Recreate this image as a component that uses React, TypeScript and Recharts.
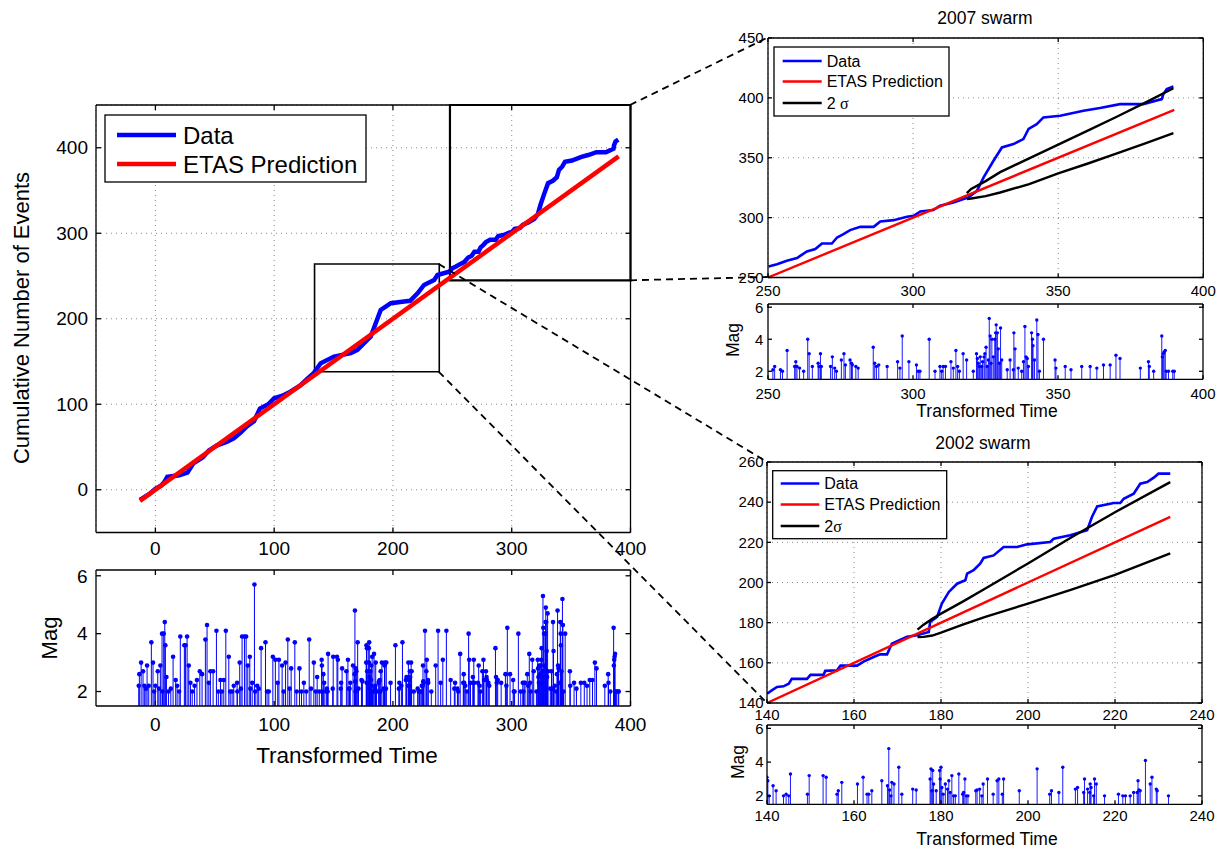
import React from 'react'
import { LineChart, ComposedChart, Line, Bar, XAxis, YAxis, CartesianGrid, ReferenceArea } from 'recharts'

const FONT = '"Liberation Sans", Arial, Helvetica, sans-serif'
const BLUE = '#0000ff'
const RED = '#ff0000'

// cumulative number of events [transformed time, count]
const cumEarly: [number, number][] = [
  [-13, -12], [-5, -5], [0, 1], [5, 5], [8, 10], [10, 15], [20, 17], [27, 20], [32, 31],
  [40, 38], [45, 46], [52, 52], [60, 56], [66, 60], [72, 67], [77, 74], [83, 80], [88, 95],
  [95, 100], [100, 107], [107, 110], [114, 115], [122, 122], [128, 130], [133, 136],
]
const cumMainMid: [number, number][] = [
  [139.2, 148], [150.4, 155.8], [164.5, 159.7], [170.1, 163.6], [181.3, 179.1], [185.5, 194.8],
  [189.7, 210.3], [193.9, 214.2], [198.2, 218.2], [209.4, 220.1], [214.5, 221], [220.7, 229.8],
  [226.2, 239.5], [229.1, 241.5], [234.7, 245.4], [237.5, 251.2], [247.3, 255.1],
]
const cum2002: [number, number][] = [
  [140, 144.6], [141.1, 146.3], [142.3, 148], [143.8, 148.3], [145, 149.6], [145.7, 152],
  [149.2, 152], [150, 154], [153, 154], [153.4, 156], [156.1, 156.3], [156.9, 158.6],
  [160.7, 158.6], [162.2, 160.6], [164.5, 162.9], [166, 164.2], [167.6, 164.2], [168.7, 169.5],
  [170.7, 171.5], [172.2, 173], [174.5, 173.7], [177.2, 175.4], [177.5, 180.3], [179.1, 182.8],
  [180.2, 189.5], [181.8, 195.3], [183.7, 199.4], [185.6, 201.1], [186, 204.4], [187.5, 206.1],
  [189, 209.4], [189.8, 212.2], [192.1, 213.5], [194.4, 217.7], [197.5, 217.7], [199.8, 219],
  [205.1, 220.2], [205.9, 221.8], [209.7, 223.5], [213.6, 226], [214.7, 232.6], [215.9, 237.9],
  [219.7, 239.6], [221.2, 239.6], [222, 241.7], [224.3, 244.2], [225.8, 249.2], [227.4, 250],
  [228.9, 252.2], [230, 254.2], [232.7, 254.2],
]
const cum2007: [number, number][] = [
  [250.2, 259.2], [253.1, 261.1], [256.5, 263.9], [260, 266.2], [261.1, 268.1], [263.4, 271.7],
  [266.3, 273.7], [268.6, 278.4], [272, 278.4], [273.8, 283.4], [276, 286.2], [278.3, 289.6],
  [281.8, 292.3], [286.4, 292.3], [288.7, 296.8], [293.3, 297.9], [297.9, 300.7], [300.2, 301.5],
  [302.5, 305.2], [307, 306.3], [309.3, 309.9], [313.9, 312.7], [317.4, 315.5], [319.1, 316.9],
  [322, 322.4], [324.3, 333.6], [327.7, 347.5], [330.6, 358.6], [334.6, 361.4], [338, 365.6],
  [339.8, 374], [342.6, 378.1], [344.9, 383.7], [350.7, 385.1], [358.7, 389.3], [364.4, 391.5],
  [371.3, 394.8], [379.3, 394.8], [385.7, 399], [386.2, 403], [387.4, 407.4], [389.7, 409.6],
]

// ETAS prediction end points
const predMain: [number, number][] = [[-13, -13], [390, 390]]
const pred2007: [number, number][] = [[250, 250], [390, 390]]
const pred2002: [number, number][] = [[140, 140], [232.7, 232.7]]

// 2 sigma envelopes
const sig2007Time = [318.5, 320, 325, 330, 340, 350, 360, 370, 380, 389.7]
const sig2007Upper = [320.5, 324, 330.5, 338, 349.5, 361, 372.5, 384, 396, 408]
const sig2007Lower = [315.5, 316, 318, 321, 328, 337, 345, 353.5, 362, 370.5]
const sig2002Time = [174.6, 176, 178, 180, 185, 190, 200, 210, 220, 232.7]
const sig2002Upper = [176.5, 179, 182, 184.5, 190.5, 196.8, 209.5, 222.5, 235, 250]
const sig2002Lower = [172.8, 172.9, 173.6, 175, 179, 182.8, 189.5, 196.5, 203.8, 214.5]

// magnitudes [transformed time, mag]
const magEarly: [number, number][] = [
  [-14, 2.2], [-13.5, 2.6], [-12, 3.0], [-10.4, 2.7], [-9.3, 2.2], [-8, 2.1], [-7, 2.9], [-5.6, 2.2],
  [-3.4, 3.7], [-2, 3.0], [-1, 2.0], [0, 2.2], [2, 2.7], [3, 2.1], [4.2, 2.9], [5.6, 4.0], [6, 2.0],
  [7, 4.0], [7.9, 4.4], [8.4, 3.6], [9.3, 2.5], [11, 2.0], [13, 2.1], [14.9, 3.2], [17.1, 2.4],
  [18.3, 2.2], [20, 2.0], [21, 3.9], [24.4, 3.6], [25.3, 3.6], [26.7, 3.9], [28.1, 2.9], [29.5, 2.3],
  [31, 2.0], [33, 2.2], [35, 2.4], [37.4, 2.7], [39.3, 2.6], [42.1, 3.8], [43.5, 4.3], [45, 2.3],
  [46.3, 2.7], [48.6, 2.7], [51.4, 4.1], [53, 2.0], [54.8, 2.4], [56, 2.0], [57.6, 2.4], [59.3, 4.1],
  [61.8, 3.2], [63, 2.0], [64.6, 2.0], [66, 2.2], [68.8, 2.3], [69, 2.0], [71, 3.0], [72, 2.1],
  [73, 3.9], [75, 3.9], [76.4, 3.9], [77.8, 2.9], [79.5, 3.2], [80, 2.1], [81.5, 2.3], [83.4, 5.7],
  [84, 2.0], [85.7, 2.2], [87, 2.1], [89, 3.5], [92.7, 3.7], [94, 2.0], [95.5, 2.0], [98.9, 3.2],
  [101, 3.1], [103, 2.3], [104, 3.1], [106.7, 2.9], [108, 2.0], [109.6, 3.0], [111.5, 3.8],
  [113, 2.1], [114.3, 2.8], [117.4, 3.7], [119, 2.0], [121.3, 2.8], [123, 2.0], [125, 2.3],
  [127, 2.0], [129.5, 3.8], [131, 2.1], [133.4, 3.0], [135, 2.0], [136.2, 2.5], [138, 2.0],
]
const mag2002: [number, number][] = [
  [140, 3.1], [140.2, 2.9], [140.5, 2.0], [141.4, 2.6], [142.1, 2.3], [143.8, 2.0], [144.4, 2.1],
  [145, 2.0], [145.4, 3.3], [149.3, 2.1], [149.7, 3.2], [152.9, 3.2], [153.6, 3.1], [156.1, 2.1],
  [156.4, 2.3], [157.2, 2.8], [160.8, 2.7], [162.1, 3.1], [163, 2.1], [163.4, 2.1], [164.1, 2.3],
  [166.4, 2.9], [167.7, 2.6], [168, 4.8], [168.2, 2.35], [168.5, 2.0], [168.7, 2.8], [169.2, 2.7],
  [170.3, 3.7], [171, 2.1], [173.5, 2.4], [174.3, 2.35], [177.5, 3.0], [177.7, 3.6], [177.9, 2.3],
  [178.1, 3.5], [178.3, 2.7], [178.9, 2.3], [179.7, 3.5], [179.8, 3.0], [180, 3.7], [180.2, 2.5],
  [180.5, 2.1], [181, 2.7], [181.5, 2.4], [181.8, 2.9], [182.1, 2.2], [182.5, 3.2], [182.9, 2.0],
  [183.3, 2.0], [184.1, 3.3], [185, 2.1], [185.2, 2.2], [185.5, 3.0], [185.8, 2.0], [186.2, 2.0],
  [188, 2.3], [188.3, 2.35], [188.9, 2.4], [189.4, 2.0], [189.7, 2.7], [190.7, 3.0], [192, 2.1],
  [192.9, 2.9], [193.3, 3.0], [194.1, 2.1], [194.4, 3.0], [198, 2.3], [202.1, 3.6], [205, 2.1],
  [205.4, 2.3], [207.1, 2.2], [208, 3.7], [210.9, 2.4], [211.4, 2.5], [212.8, 2.2], [213, 3.0],
  [213.7, 2.4], [214.2, 2.2], [214.3, 2.7], [214.5, 2.5], [215.1, 2.0], [215.3, 3.0], [215.7, 2.7],
  [217.6, 2.0], [220.8, 2.1], [221.8, 2.0], [222.4, 2.0], [223.5, 2.0], [224.3, 2.2], [225.1, 2.2],
  [225.3, 2.9], [225.5, 2.35], [225.8, 2.3], [227, 4.1], [228.1, 2.7], [228.5, 3.1], [229.5, 2.4],
  [229.7, 2.3], [232.3, 2.0],
]
const magMid: [number, number][] = [[236, 2.9], [238, 4.1], [240.2, 2.3], [242, 3.1], [245, 4.1], [248.6, 2.4]]
const mag2007: [number, number][] = [
  [251.7, 2.1], [252.3, 2.3], [254.3, 2.1], [255, 2.0], [256.6, 3.3], [259.2, 2.3], [259.6, 2.6],
  [260, 2.3], [260.9, 2.2], [262.3, 2.0], [263.7, 4.0], [264.2, 3.1], [265.3, 2.3], [267.3, 2.5],
  [267.6, 2.3], [268.1, 3.1], [268.4, 2.3], [271.6, 2.3], [272.2, 2.9], [273, 2.2], [273.6, 2.0],
  [275.3, 2.7], [276.2, 3.1], [276.7, 2.4], [278.3, 2.7], [278.8, 2.5], [279.1, 2.4], [280.3, 2.3],
  [281.1, 2.2], [286.3, 3.5], [286.8, 2.5], [287.4, 2.3], [288.2, 2.4], [291.1, 2.3], [294.7, 2.6],
  [295.5, 2.2], [296.3, 4.2], [298.6, 2.6], [301.2, 2.4], [301.8, 2.0], [302.4, 2.0], [305.6, 4.0],
  [307.6, 2.0], [309.3, 2.3], [309.9, 2.0], [310.4, 2.3], [311.2, 2.3], [313.1, 2.6], [313.9, 2.2],
  [314.8, 3.3], [315.4, 2.3], [316, 2.0], [317.3, 3.1], [318.5, 2.7], [320.8, 2.0], [321.9, 3.1],
  [322.2, 2.8], [322.5, 2.5], [322.9, 2.3], [323.2, 2.9], [323.7, 2.3], [324, 2.6], [324.5, 2.9],
  [324.8, 3.1], [325.2, 3.5], [325.6, 2.3], [326, 2.7], [326.3, 5.3], [326.6, 4.2], [326.9, 2.5],
  [327.2, 4.0], [327.7, 2.9], [328.2, 4.0], [328.5, 4.4], [328.7, 4.9], [329.1, 4.4], [329.4, 3.4],
  [329.8, 2.5], [330.2, 4.7], [330.6, 2.7], [332.5, 2.1], [333.5, 2.7], [334.6, 2.1], [334.8, 4.4],
  [335.2, 3.4], [336.3, 2.2], [337.5, 2.0], [338.1, 2.6], [338.6, 4.8], [339, 2.9], [339.4, 2.8],
  [339.8, 2.3], [340.9, 4.4], [341.2, 4.0], [341.4, 3.6], [341.9, 2.7], [342.7, 5.2], [343.1, 4.3],
  [343.6, 2.0], [345, 4.0], [349, 2.7], [349.3, 2.2], [352.5, 2.3], [354.5, 2.1], [358.2, 2.3],
  [361.1, 2.3], [363.4, 2.2], [365.7, 2.4], [368, 2.4], [370, 3.0], [371.4, 2.8], [378.4, 2.2],
  [381.2, 2.6], [381.5, 2.3], [383, 2.0], [385.8, 4.2], [386, 2.9], [386.3, 3.1], [386.6, 3.2],
  [387, 3.3], [387.3, 2.0], [388.1, 2.0], [389.6, 2.0], [390.1, 2.0],
]

// zoom windows drawn on the main panel [t1, t2, n1, n2]
const zoomBox2002 = [134, 239, 138, 264]
const zoomBox2007 = [248, 400, 245, 450]

// axis ranges and tick labels
const mainTimeTicks = [0, 100, 200, 300, 400]
const mainCountTicks = [0, 100, 200, 300, 400]
const time2007Ticks = [250, 300, 350, 400]
const count2007Ticks = [250, 300, 350, 400, 450]
const time2002Ticks = [140, 160, 180, 200, 220, 240]
const count2002Ticks = [140, 160, 180, 200, 220, 240, 260]
const magTicks = [2, 4, 6]

const toPoints = (rows: [number, number][]) => rows.map(([t, n]) => ({ t, n }))
const toMags = (rows: [number, number][]) => rows.map(([t, m]) => ({ t, m }))

const cumAll = toPoints([...cumEarly, ...cumMainMid, ...cum2007])
const magAll = toMags([...magEarly, ...mag2002, ...magMid, ...mag2007])
const sig2007 = sig2007Time.map((t, i) => ({ t, up: sig2007Upper[i], lo: sig2007Lower[i] }))
const sig2002 = sig2002Time.map((t, i) => ({ t, up: sig2002Upper[i], lo: sig2002Lower[i] }))

type Panel = {
  left: number; top: number; right: number; bottom: number
  xDomain: [number, number]; yDomain: [number, number]
  xTicks: number[]; yTicks: number[]
  font: number; tick: number; xMargin: number; yMargin: number
}

const MAIN: Panel = { left: 95.5, top: 105, right: 630, bottom: 532.5, xDomain: [-50, 400], yDomain: [-50, 450], xTicks: mainTimeTicks, yTicks: mainCountTicks, font: 19, tick: 5, xMargin: 14, yMargin: 13 }
const MAIN_MAG: Panel = { left: 95.5, top: 570, right: 630, bottom: 706, xDomain: [-50, 400], yDomain: [1.5, 6.2], xTicks: mainTimeTicks, yTicks: magTicks, font: 19, tick: 5, xMargin: 17, yMargin: 13.5 }
const S07: Panel = { left: 767.7, top: 37.5, right: 1203, bottom: 277, xDomain: [250, 400], yDomain: [250, 450], xTicks: time2007Ticks, yTicks: count2007Ticks, font: 15, tick: 4, xMargin: 12, yMargin: 8.4 }
const S07_MAG: Panel = { left: 768, top: 304, right: 1203, bottom: 379.3, xDomain: [250, 400], yDomain: [1.5, 6.2], xTicks: time2007Ticks, yTicks: magTicks, font: 15, tick: 4, xMargin: 13, yMargin: 8.7 }
const S02: Panel = { left: 766.7, top: 461.7, right: 1201.7, bottom: 702.7, xDomain: [140, 240], yDomain: [140, 260], xTicks: time2002Ticks, yTicks: count2002Ticks, font: 15, tick: 4, xMargin: 10.5, yMargin: 7.4 }
const S02_MAG: Panel = { left: 766.7, top: 725, right: 1201.7, bottom: 804.3, xDomain: [140, 240], yDomain: [1.5, 6.2], xTicks: time2002Ticks, yTicks: magTicks, font: 15, tick: 4, xMargin: 9.7, yMargin: 7.4 }

const YW = 70
const RW = 28
const TH = 12
const BH = 48

function px(p: Panel, x: number, y: number): [number, number] {
  const fx = (x - p.xDomain[0]) / (p.xDomain[1] - p.xDomain[0])
  const fy = (y - p.yDomain[0]) / (p.yDomain[1] - p.yDomain[0])
  return [p.left + fx * (p.right - p.left), p.bottom - fy * (p.bottom - p.top)]
}

function frame(p: Panel, grid: boolean) {
  const tickStyle = { fill: '#000', fontSize: p.font, fontFamily: FONT }
  const line = { stroke: '#000', strokeWidth: 1.3 }
  const blank = () => ''
  return [
    <XAxis key="xb" xAxisId="b" dataKey="t" type="number" domain={p.xDomain} ticks={p.xTicks} interval={0}
      allowDataOverflow height={BH} tickSize={-p.tick} tickMargin={p.xMargin} axisLine={line} tickLine={line} tick={tickStyle} />,
    <XAxis key="xt" xAxisId="t" orientation="top" dataKey="t" type="number" domain={p.xDomain} ticks={p.xTicks} interval={0}
      allowDataOverflow height={TH} tickSize={-p.tick} axisLine={line} tickLine={line} tick={tickStyle} tickFormatter={blank} />,
    <YAxis key="yl" yAxisId="l" type="number" domain={p.yDomain} ticks={p.yTicks} interval={0}
      allowDataOverflow width={YW} tickSize={-p.tick} tickMargin={p.yMargin} axisLine={line} tickLine={line} tick={tickStyle} />,
    <YAxis key="yr" yAxisId="r" orientation="right" type="number" domain={p.yDomain} ticks={p.yTicks} interval={0}
      allowDataOverflow width={RW} tickSize={-p.tick} axisLine={line} tickLine={line} tick={tickStyle} tickFormatter={blank} />,
    grid ? <CartesianGrid key="g" xAxisId="b" yAxisId="l" stroke="#888" strokeDasharray="1 4" /> : null,
  ]
}

function place(p: Panel) {
  return {
    style: { position: 'absolute' as const, left: p.left - YW, top: p.top - TH },
    width: YW + p.right - p.left + RW,
    height: TH + p.bottom - p.top + BH,
  }
}

const stem = (r: number, w: number) => (props: any) => {
  const { x, y, width, height } = props
  if (x == null || y == null) return <g />
  const cx = x + width / 2
  return (
    <g>
      <line x1={cx} x2={cx} y1={y} y2={y + height} stroke={BLUE} strokeWidth={w} />
      <circle cx={cx} cy={y} r={r} fill={BLUE} />
    </g>
  )
}

function MagPanel({ p, data, r }: { p: Panel; data: { t: number; m: number }[]; r: number }) {
  const pl = place(p)
  return (
    <div style={pl.style}>
      <ComposedChart width={pl.width} height={pl.height} data={data} margin={{ top: 0, right: 0, bottom: 0, left: 0 }}>
        {frame(p, false)}
        <Bar xAxisId="b" yAxisId="l" dataKey="m" barSize={1} isAnimationActive={false} shape={stem(r, r > 2 ? 1 : 0.9)} />
      </ComposedChart>
    </div>
  )
}

function SwarmPanel({ p, cum, pred, sig }: { p: Panel; cum: [number, number][]; pred: [number, number][]; sig: { t: number; up: number; lo: number }[] }) {
  const pl = place(p)
  return (
    <div style={pl.style}>
      <LineChart width={pl.width} height={pl.height} margin={{ top: 0, right: 0, bottom: 0, left: 0 }}>
        {frame(p, true)}
        <Line xAxisId="b" yAxisId="l" data={toPoints(cum)} dataKey="n" stroke={BLUE} strokeWidth={2.6} dot={false} isAnimationActive={false} />
        <Line xAxisId="b" yAxisId="l" data={toPoints(pred)} dataKey="n" stroke={RED} strokeWidth={2.4} dot={false} isAnimationActive={false} />
        <Line xAxisId="b" yAxisId="l" data={sig} dataKey="up" stroke="#000" strokeWidth={2.4} dot={false} isAnimationActive={false} />
        <Line xAxisId="b" yAxisId="l" data={sig} dataKey="lo" stroke="#000" strokeWidth={2.4} dot={false} isAnimationActive={false} />
      </LineChart>
    </div>
  )
}

function LegendBox({ x, y, w, h, x1, x2, tx, font, lw, rows }: {
  x: number; y: number; w: number; h: number; x1: number; x2: number; tx: number; font: number; lw: number
  rows: { label: React.ReactNode; color: string; y: number }[]
}) {
  return (
    <g>
      <rect x={x} y={y} width={w} height={h} fill="#fff" stroke="#000" strokeWidth={1.3} />
      {rows.map((r, i) => (
        <g key={i}>
          <line x1={x1} x2={x2} y1={r.y} y2={r.y} stroke={r.color} strokeWidth={lw} />
          <text x={tx} y={r.y} fontSize={font} fontFamily={FONT} dominantBaseline="central" fill="#000">{r.label}</text>
        </g>
      ))}
    </g>
  )
}

export default function App() {
  const mainPl = place(MAIN)
  const c1a = px(MAIN, 400, 450), c1b = px(S07, 250, 450)
  const c2a = px(MAIN, 400, zoomBox2007[2]), c2b = px(S07, 250, 250)
  const c3a = px(MAIN, zoomBox2002[1], zoomBox2002[3]), c3b = px(S02, 140, 260)
  const c4a = px(MAIN, zoomBox2002[1], zoomBox2002[2]), c4b = px(S02, 140, 140)
  const dash = { stroke: '#000', strokeWidth: 1.8, strokeDasharray: '7 5' }
  const label = { fontFamily: FONT, fill: '#000', textAnchor: 'middle' as const, dominantBaseline: 'central' as const }

  return (
    <div style={{ position: 'absolute', left: 0, top: 0, width: 1225, height: 850, overflow: 'hidden', background: '#fff' }}>
      <div style={mainPl.style}>
        <LineChart width={mainPl.width} height={mainPl.height} margin={{ top: 0, right: 0, bottom: 0, left: 0 }}>
          {frame(MAIN, true)}
          <ReferenceArea xAxisId="b" yAxisId="l" x1={zoomBox2002[0]} x2={zoomBox2002[1]} y1={zoomBox2002[2]} y2={zoomBox2002[3]}
            fill="none" stroke="#000" strokeWidth={1.6} ifOverflow="visible" />
          <ReferenceArea xAxisId="b" yAxisId="l" x1={zoomBox2007[0]} x2={zoomBox2007[1]} y1={zoomBox2007[2]} y2={zoomBox2007[3]}
            fill="none" stroke="#000" strokeWidth={2.2} ifOverflow="visible" />
          <Line xAxisId="b" yAxisId="l" data={cumAll} dataKey="n" stroke={BLUE} strokeWidth={4.5} dot={false} isAnimationActive={false} />
          <Line xAxisId="b" yAxisId="l" data={toPoints(predMain)} dataKey="n" stroke={RED} strokeWidth={4.5} dot={false} isAnimationActive={false} />
        </LineChart>
      </div>
      <MagPanel p={MAIN_MAG} data={magAll} r={2.3} />
      <SwarmPanel p={S07} cum={cum2007} pred={pred2007} sig={sig2007} />
      <MagPanel p={S07_MAG} data={toMags(mag2007)} r={1.7} />
      <SwarmPanel p={S02} cum={cum2002} pred={pred2002} sig={sig2002} />
      <MagPanel p={S02_MAG} data={toMags(mag2002)} r={1.7} />

      <svg width={1225} height={850} style={{ position: 'absolute', left: 0, top: 0, pointerEvents: 'none' }}>
        <line x1={c1a[0]} y1={c1a[1]} x2={c1b[0]} y2={c1b[1]} {...dash} />
        <line x1={c2a[0]} y1={c2a[1]} x2={c2b[0]} y2={c2b[1]} {...dash} />
        <line x1={c3a[0]} y1={c3a[1]} x2={c3b[0]} y2={c3b[1]} {...dash} />
        <line x1={c4a[0]} y1={c4a[1]} x2={c4b[0]} y2={c4b[1]} {...dash} />

        <LegendBox x={105} y={115} w={261} h={67} x1={117} x2={176} tx={183} font={24} lw={4.5}
          rows={[{ label: 'Data', color: BLUE, y: 135 }, { label: 'ETAS Prediction', color: RED, y: 164 }]} />
        <LegendBox x={774} y={47} w={175} h={69} x1={782.7} x2={821.7} tx={826.7} font={16} lw={2.6}
          rows={[
            { label: 'Data', color: BLUE, y: 61 },
            { label: 'ETAS Prediction', color: RED, y: 81.5 },
            { label: <>2 <tspan fontFamily='"Liberation Serif", serif'>σ</tspan></>, color: '#000', y: 103 },
          ]} />
        <LegendBox x={772.7} y={470.7} w={174} h={68} x1={780.7} x2={819.3} tx={824.3} font={16} lw={2.6}
          rows={[
            { label: 'Data', color: BLUE, y: 483.5 },
            { label: 'ETAS Prediction', color: RED, y: 504.5 },
            { label: <>2<tspan fontFamily='"Liberation Serif", serif'>σ</tspan></>, color: '#000', y: 526 },
          ]} />

        <text x={985} y={18} fontSize={17.5} {...label}>2007 swarm</text>
        <text x={983} y={443} fontSize={17.5} {...label}>2002 swarm</text>
        <text x={347} y={755} fontSize={22.5} {...label}>Transformed Time</text>
        <text x={987} y={411} fontSize={17.5} {...label}>Transformed Time</text>
        <text x={987} y={839} fontSize={17.5} {...label}>Transformed Time</text>
        <text x={21} y={318} fontSize={22} {...label} transform="rotate(-90 21 318)">Cumulative Number of Events</text>
        <text x={49} y={638} fontSize={22} {...label} transform="rotate(-90 49 638)">Mag</text>
        <text x={733} y={340} fontSize={17.5} {...label} transform="rotate(-90 733 340)">Mag</text>
        <text x={738} y={762} fontSize={17.5} {...label} transform="rotate(-90 738 762)">Mag</text>
      </svg>
    </div>
  )
}
